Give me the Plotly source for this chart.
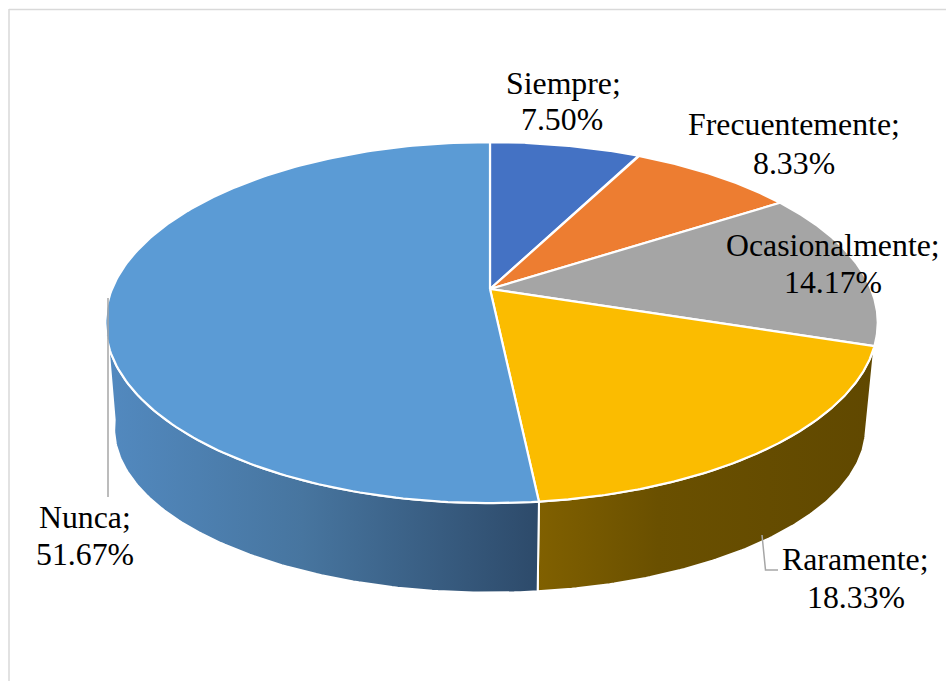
import numpy as np
import plotly.graph_objects as go

categories = ["Siempre", "Frecuentemente", "Ocasionalmente", "Raramente", "Nunca"]
values = [7.50, 8.33, 14.17, 18.33, 51.67]
top_colors = ["#4472C4", "#ED7D31", "#A5A5A5", "#FBBC00", "#5B9BD5"]

W, H = 946, 681
CX, CY = 490, 289


def top_rim(t):
    u, v = np.sin(t), np.cos(t)
    d = 1 + 0.186 * v
    return CX + np.where(u > 0, 381, 378) * u / d, CY - 174.3 * v / d


def bottom_rim(t):
    u, v = np.sin(t), np.cos(t)
    d = 1 + 0.19 * v
    return CX + 369 * u / d, 397 - 158.5 * v / d


edges = np.radians(np.cumsum([0] + values) * 3.6)
fig = go.Figure()

# side walls (only the two front slices show a wall)
walls = [
    (edges[3], edges[4], edges[4], np.radians(100),
     [[0, "#806000"], [0.35, "#6A5000"], [1, "#604800"]], (539, 880)),
    (edges[4], np.radians(262), np.radians(262), edges[4],
     [[0, "#5289BF"], [0.45, "#47759F"], [1, "#2D4A6A"]], (110, 539)),
]
for a, b, c, d, scale, (x0, x1) in walls:
    tx, ty = top_rim(np.linspace(a, b, 120))
    bx, by = bottom_rim(np.linspace(c, d, 120))
    fig.add_trace(go.Scatter(
        x=np.r_[tx, bx, tx[0]], y=np.r_[ty, by, ty[0]], mode="lines",
        line=dict(color="white", width=2), fill="toself",
        fillgradient=dict(type="horizontal", colorscale=scale, start=x0, stop=x1),
        hoverinfo="skip", showlegend=False,
    ))

# top face
for i, (name, col) in enumerate(zip(categories, top_colors)):
    x, y = top_rim(np.linspace(edges[i], edges[i + 1], 200))
    fig.add_trace(go.Scatter(
        x=np.r_[CX, x, CX], y=np.r_[CY, y, CY], mode="lines",
        line=dict(color="white", width=2.2), fill="toself", fillcolor=col,
        name=name, hoverinfo="skip", showlegend=False,
    ))

# labels: name and value are set on separate lines with tight leading
label_pos = [(563, 83, 562, 119), (794, 124, 793.5, 163), (833, 245, 832.5, 282),
             (855, 559, 855.5, 597), (85, 517, 84.5, 554)]
for name, val, (x1, y1, x2, y2) in zip(categories, values, label_pos):
    for txt, x, y in [(name + ";", x1, y1), (f"{val:.2f}%", x2, y2)]:
        fig.add_annotation(x=x, y=y, text=txt, showarrow=False, xanchor="center", yanchor="middle",
                           font=dict(family="Liberation Serif", size=31.8, color="#000000"))

border = "#D9D9D9"
leader = "#A6A6A6"
fig.update_layout(
    width=W, height=H, margin=dict(l=0, r=0, t=0, b=0),
    paper_bgcolor="white", plot_bgcolor="white", showlegend=False,
    xaxis=dict(range=[0, W], visible=False, fixedrange=True),
    yaxis=dict(range=[H, 0], visible=False, fixedrange=True),
    shapes=[
        dict(type="line", x0=9, x1=9, y0=9, y1=H, line=dict(color=border, width=1.5)),
        dict(type="line", x0=9, x1=W, y0=9.5, y1=9.5, line=dict(color=border, width=1.5)),
        dict(type="line", x0=108, x1=108, y0=298, y1=497, line=dict(color=leader, width=1.5)),
        dict(type="path", path="M762,535 L765.5,570 L778,570", line=dict(color=leader, width=1.5)),
    ],
)
fig.write_html("out.html", config={"displayModeBar": False},
               post_script="document.body.style.margin='0';")
